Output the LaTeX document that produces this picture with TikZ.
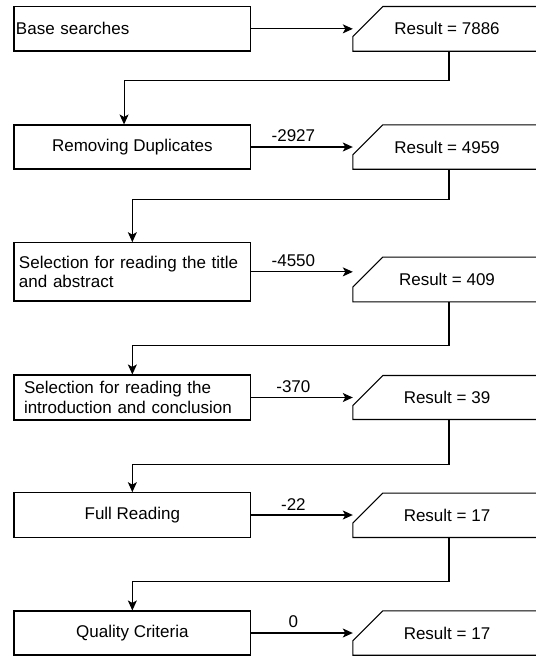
\documentclass[tikz,border=0pt]{standalone}
\usepackage{fontspec}
\setmainfont{Liberation Sans}
\usetikzlibrary{arrows.meta}

\begin{document}
\begin{tikzpicture}[x=1pt,y=-1pt,
	stepbox/.style={draw, line width=1.1pt, minimum width=236.7pt, inner sep=0pt, align=center, font=\fontsize{17}{19.5}\selectfont},
	resultbox/.style={minimum width=188pt, inner sep=0pt, font=\fontsize{17}{19.5}\selectfont},
	flow/.style={line width=1.1pt, -{Stealth[length=10pt,width=9pt,inset=2.5pt]}},
	count/.style={above=1pt, pos=0.415, font=\fontsize{17}{19.5}\selectfont}]
	\useasboundingbox (0,0) rectangle (536,657);

	\node[stepbox, minimum height=44.3pt, inner xsep=2pt, text width=232.7pt, align=left] (base) at (132.35,28.85) {Base searches};
	\node[stepbox, minimum height=44pt] (dupl) at (132.35,147) {Removing Duplicates};
	\node[stepbox, minimum height=58.3pt, inner xsep=5pt, text width=226.7pt, align=left] (title) at (132.35,271.85) {Selection for reading the title\\and abstract};
	\node[stepbox, minimum height=45pt, inner xsep=10pt, text width=216.7pt, align=left] (intro) at (132.35,397.5) {Selection for reading the\\introduction and conclusion};
	\node[stepbox, minimum height=44.6pt] (full) at (132.35,515) {Full Reading};
	\node[stepbox, minimum height=44pt] (qual) at (132.35,633) {Quality Criteria};

	\node[resultbox, minimum height=44.3pt] (res1) at (447,28.85) {Result = 7886};
	\node[resultbox, minimum height=44pt] (res2) at (447,147) {Result = 4959};
	\node[resultbox, minimum height=44.4pt] (res3) at (447,279.5) {Result = 409};
	\node[resultbox, minimum height=43.6pt] (res4) at (447,397.5) {Result = 39};
	\node[resultbox, minimum height=44pt] (res5) at (447,515.3) {Result = 17};
	\node[resultbox, minimum height=44pt] (res6) at (447,633) {Result = 17};

	\foreach \r in {res1,res2,res3,res4,res5,res6}
		\draw[line width=1.1pt] (\r.north east) -- ([xshift=30pt]\r.north west) -- ([yshift=-30pt]\r.north west) -- (\r.south west) -- (\r.south east);

	\draw[flow] (base.east) -- (base.east -| res1.west);
	\draw[flow] (dupl.east) -- (dupl.east -| res2.west) node[count] {-2927};
	\draw[flow] (title.east) -- (title.east -| res3.west) node[count] {-4550};
	\draw[flow] (intro.east) -- (intro.east -| res4.west) node[count] {-370};
	\draw[flow] (full.east) -- (full.east -| res5.west) node[count] {-22};
	\draw[flow] (qual.east) -- (qual.east -| res6.west) node[count] {0};

	\draw[flow] ([xshift=2pt]res1.south) -- ++(0,29.3) -| ([xshift=-8.3pt]dupl.north);
	\draw[flow] ([xshift=2pt]res2.south) -- ++(0,30) -| (title.north);
	\draw[flow] ([xshift=2pt]res3.south) -- ++(0,43.3) -| (intro.north);
	\draw[flow] ([xshift=2pt]res4.south) -- ++(0,44.7) -| (full.north);
	\draw[flow] ([xshift=2pt]res5.south) -- ++(0,44.4) -| (qual.north);
\end{tikzpicture}
\end{document}
